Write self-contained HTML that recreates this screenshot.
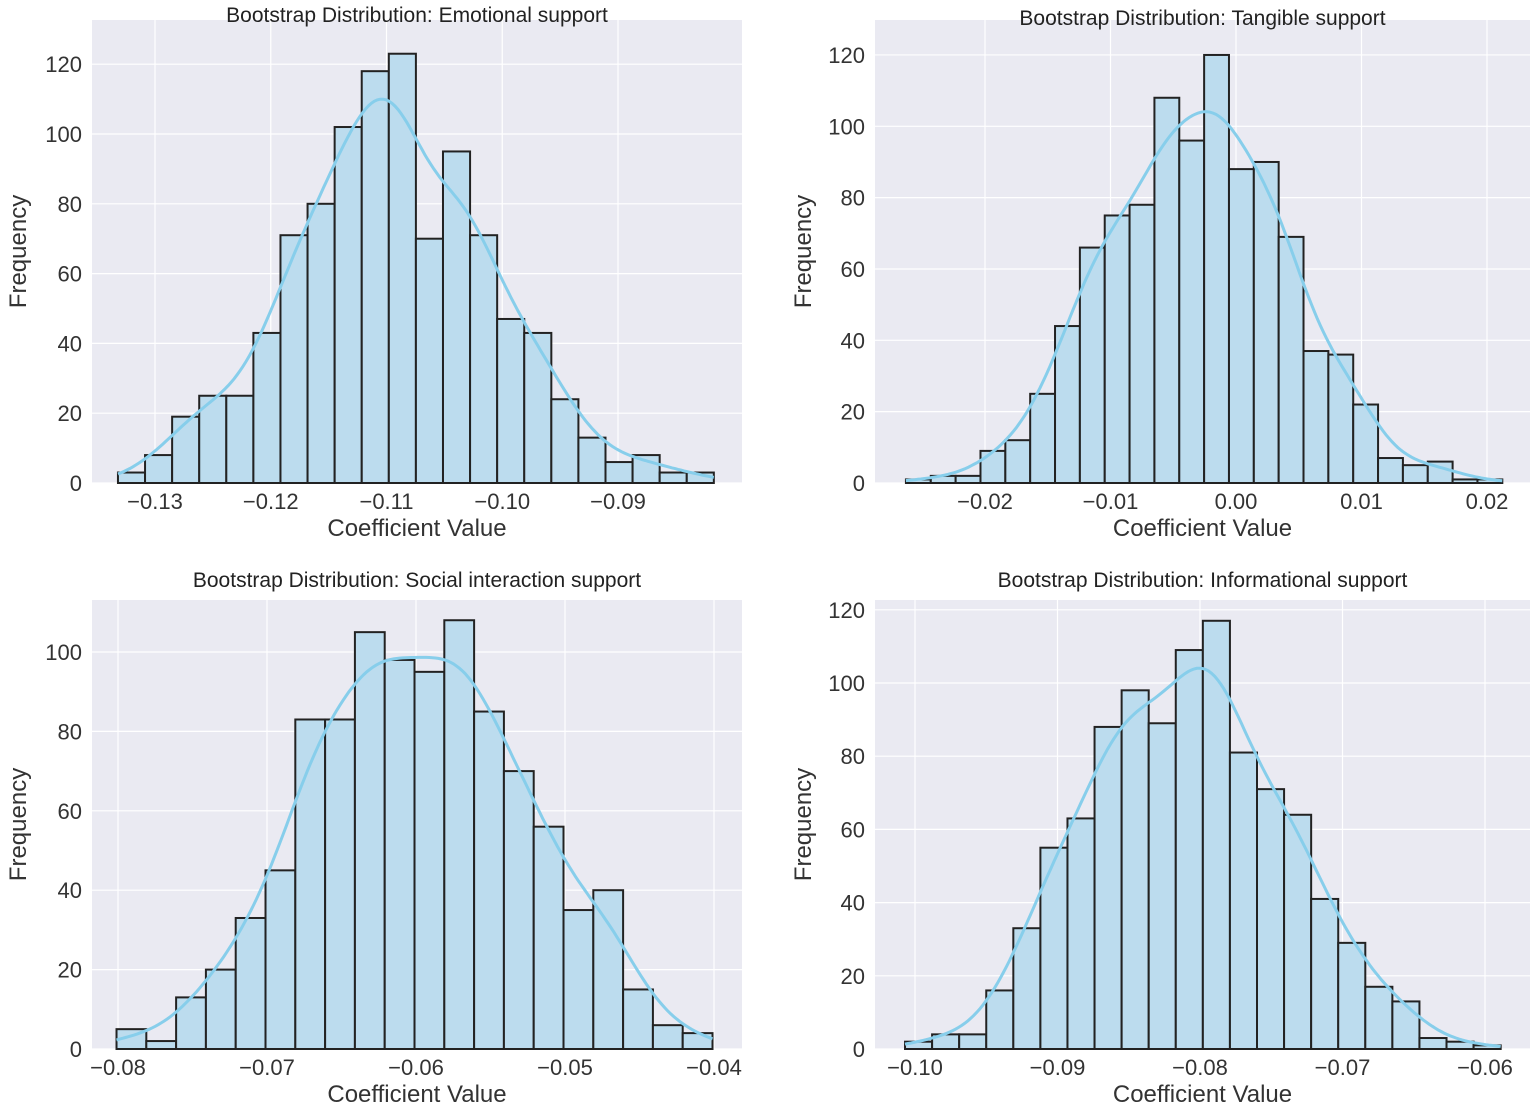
<!DOCTYPE html>
<html><head><meta charset="utf-8">
<style>
html,body{margin:0;padding:0;background:#fff;}
svg{display:block;font-family:"Liberation Sans",sans-serif;}
</style></head>
<body>
<svg id="fig" width="1535" height="1111" viewBox="0 0 1535 1111"></svg>
<script>
// ---- data ----
const emoCounts = [3,8,19,25,25,43,71,80,102,118,123,70,95,71,47,43,24,13,6,8,3,3];
const emoBinStart = -0.1332;
const emoBinWidth = 0.00234;
const emoXTicks = [-0.13,-0.12,-0.11,-0.10,-0.09];
const emoXTickLabels = ["\u22120.13","\u22120.12","\u22120.11","\u22120.10","\u22120.09"];
const emoYTicks = [0,20,40,60,80,100,120];

const tanCounts = [1,2,2,9,12,25,44,66,75,78,108,96,120,88,90,69,37,36,22,7,5,6,1,1];
const tanBinStart = -0.0263;
const tanBinWidth = 0.00198;
const tanXTicks = [-0.02,-0.01,0.00,0.01,0.02];
const tanXTickLabels = ["\u22120.02","\u22120.01","0.00","0.01","0.02"];
const tanYTicks = [0,20,40,60,80,100,120];

const socCounts = [5,2,13,20,33,45,83,83,105,98,95,108,85,70,56,35,40,15,6,4];
const socBinStart = -0.0801;
const socBinWidth = 0.002;
const socXTicks = [-0.08,-0.07,-0.06,-0.05,-0.04];
const socXTickLabels = ["\u22120.08","\u22120.07","\u22120.06","\u22120.05","\u22120.04"];
const socYTicks = [0,20,40,60,80,100];

const infCounts = [2,4,4,16,33,55,63,88,98,89,109,117,81,71,64,41,29,17,13,3,2,1];
const infBinStart = -0.1007;
const infBinWidth = 0.0019;
const infXTicks = [-0.10,-0.09,-0.08,-0.07,-0.06];
const infXTickLabels = ["\u22120.10","\u22120.09","\u22120.08","\u22120.07","\u22120.06"];
const infYTicks = [0,20,40,60,80,100,120];

// ---- layout ----
const NS = "http://www.w3.org/2000/svg";
const svg = document.getElementById('fig');
function mk(tag, attrs, parent){
  const e = document.createElementNS(NS, tag);
  for (const k in attrs) e.setAttribute(k, attrs[k]);
  (parent||svg).appendChild(e);
  return e;
}
const panels = [
  {key:'emotional', title:'Bootstrap Distribution: Emotional support', counts:emoCounts, b0:emoBinStart, bw:emoBinWidth, xt:emoXTicks, xl:emoXTickLabels, yt:emoYTicks,
   L:92,R:742,T:20,B:483, xRef:-0.13, xPx:155, k:11575, yPerUnit:3.49, titleY:22, ylabX:26, xlabY:536},
  {key:'tangible', title:'Bootstrap Distribution: Tangible support', counts:tanCounts, b0:tanBinStart, bw:tanBinWidth, xt:tanXTicks, xl:tanXTickLabels, yt:tanYTicks,
   L:875,R:1530,T:20,B:483, xRef:-0.02, xPx:985, k:12550, yPerUnit:3.567, titleY:25, ylabX:811, xlabY:536},
  {key:'social', title:'Bootstrap Distribution: Social interaction support', counts:socCounts, b0:socBinStart, bw:socBinWidth, xt:socXTicks, xl:socXTickLabels, yt:socYTicks,
   L:92,R:742,T:600,B:1049, xRef:-0.08, xPx:118, k:14900, yPerUnit:3.97, titleY:587, ylabX:26, xlabY:1102},
  {key:'informational', title:'Bootstrap Distribution: Informational support', counts:infCounts, b0:infBinStart, bw:infBinWidth, xt:infXTicks, xl:infXTickLabels, yt:infYTicks,
   L:875,R:1530,T:600,B:1049, xRef:-0.10, xPx:915, k:14250, yPerUnit:3.66, titleY:587, ylabX:811, xlabY:1102}
];

panels.forEach(p=>{
  const g = mk('g',{});
  
  
  const xs = v => p.xPx + (v - p.xRef)*p.k;
  const ys = v => p.B - v*p.yPerUnit;
  const bg = mk('rect',{x:p.L,y:p.T,width:p.R-p.L,height:p.B-p.T,fill:'#eaeaf2'},g);
  
  
  p.xt.forEach(t=>{ const l=mk('line',{x1:xs(t),x2:xs(t),y1:p.T,y2:p.B,stroke:'#fff','stroke-width':1.2},g);
      });
  p.yt.forEach(t=>{ const l=mk('line',{x1:p.L,x2:p.R,y1:ys(t),y2:ys(t),stroke:'#fff','stroke-width':1.2},g);
      });
  p.counts.forEach((c,i)=>{
    const x0 = xs(p.b0 + i*p.bw), x1 = xs(p.b0 + (i+1)*p.bw);
    const r = mk('rect',{x:x0,y:ys(c),width:x1-x0,height:ys(0)-ys(c),fill:'#bcdcee',stroke:'#222','stroke-width':2},g);
    
    
  });
  const h = p.bw*1.05;
  const lo = p.b0, hi = p.b0 + p.counts.length*p.bw;
  let d = '';
  for (let s=0; s<=200; s++){
    const x = lo + (hi-lo)*s/200;
    let y = 0;
    p.counts.forEach((c,i)=>{ const ci = p.b0 + (i+0.5)*p.bw; const z=(x-ci)/h; y += c*Math.exp(-0.5*z*z)/(Math.sqrt(2*Math.PI)*h)*p.bw; });
    d += (s? 'L':'M') + xs(x).toFixed(1) + ',' + ys(y).toFixed(1);
  }
  const kde = mk('path',{d:d,fill:'none',stroke:'#87ceeb','stroke-width':3},g);
  
  
  p.xt.forEach((t,i)=>{ const tx=mk('text',{x:xs(t),y:p.B+26,'text-anchor':'middle','font-size':22,fill:'#333'},g); tx.textContent=p.xl[i];
      });
  p.yt.forEach(t=>{ const tx=mk('text',{x:p.L-10,y:ys(t)+8,'text-anchor':'end','font-size':22,fill:'#333'},g); tx.textContent=String(t);
      });
  const ti = mk('text',{x:(p.L+p.R)/2,y:p.titleY,'text-anchor':'middle','font-size':21,fill:'#222'},g);
  ti.textContent = p.title;
  
  
  const xl = mk('text',{x:(p.L+p.R)/2,y:p.xlabY,'text-anchor':'middle','font-size':24,fill:'#333'},g);
  xl.textContent = 'Coefficient Value';
  
  
  const yc = (p.T+p.B)/2;
  const yl = mk('text',{x:p.ylabX,y:yc,'text-anchor':'middle','font-size':24,fill:'#333',transform:'rotate(-90 '+p.ylabX+' '+yc+')'},g);
  yl.textContent = 'Frequency';
  
  
});
</script>
</body></html>
